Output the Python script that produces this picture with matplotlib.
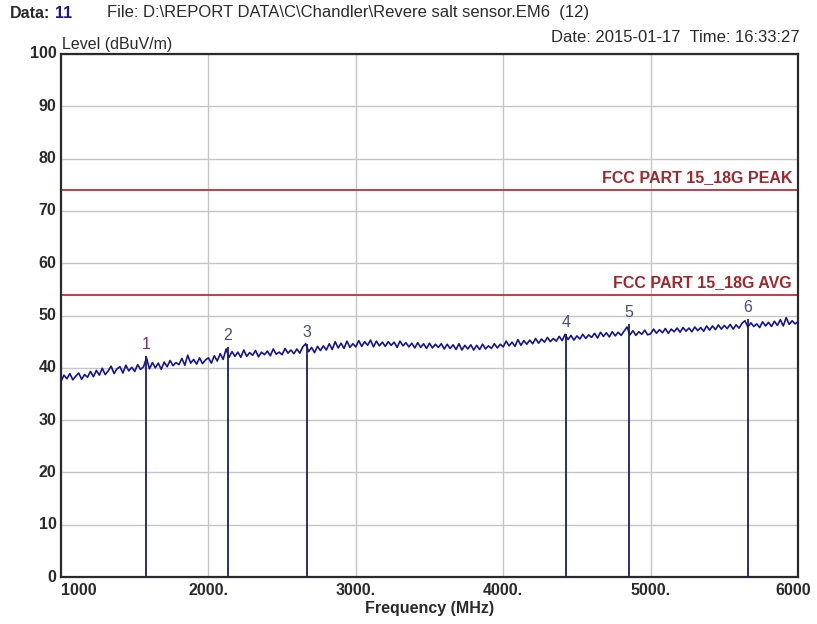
import matplotlib
matplotlib.use("Agg")
import matplotlib.pyplot as plt
import numpy as np

# ---------------- data ----------------
freq_start = 1000
freq_stop = 6000
trace_level = [
    37.4, 38.6, 37.9, 38.9, 37.7, 38.4, 39.0, 37.8, 38.7, 38.2,
    39.3, 38.3, 39.5, 38.6, 39.9, 38.7, 39.4, 40.3, 38.9, 39.8,
    40.2, 39.0, 40.5, 39.4, 40.1, 39.3, 40.6, 39.7, 40.2, 41.9,
    39.8, 41.0, 40.0, 40.9, 39.7, 41.1, 40.2, 41.4, 40.4, 41.0,
    40.6, 41.8, 40.5, 42.4, 40.9, 41.6, 40.7, 41.9, 40.8, 41.5,
    41.9, 40.9, 42.3, 41.3, 42.7, 41.6, 43.6, 42.0, 43.1, 42.2,
    43.0, 42.0, 43.4, 42.2, 42.9, 42.4, 43.3, 42.1, 43.0, 42.5,
    43.2, 42.3, 43.6, 42.6, 43.0, 42.5, 43.7, 42.8, 43.4, 42.7,
    43.6, 42.8, 44.0, 44.6, 43.1, 43.9, 42.9, 44.1, 43.3, 44.2,
    43.4, 44.6, 43.5, 45.0, 43.8, 44.7, 43.7, 45.1, 43.9, 44.6,
    44.0, 45.2, 44.1, 45.0, 44.3, 45.3, 44.0, 45.1, 44.2, 44.9,
    44.1, 45.0, 44.3, 44.9, 43.9, 45.1, 44.2, 44.8, 44.0, 44.7,
    43.8, 44.8, 43.9, 44.6, 43.7, 44.7, 43.8, 44.5, 43.9, 44.6,
    43.6, 44.5, 43.7, 44.4, 43.5, 44.6, 43.4, 44.3, 43.6, 44.4,
    43.4, 44.3, 43.5, 44.5, 43.6, 44.2, 43.7, 44.6, 43.8, 44.5,
    44.0, 45.1, 44.2, 44.9, 44.1, 45.4, 44.3, 45.2, 44.5, 45.3,
    44.6, 45.6, 44.7, 45.5, 44.9, 45.8, 45.0, 45.6, 45.1, 46.0,
    45.2, 46.4, 45.4, 46.2, 45.3, 46.1, 45.5, 46.4, 45.6, 46.3,
    45.8, 46.6, 45.7, 46.8, 46.0, 46.7, 45.9, 46.9, 46.1, 46.8,
    46.2, 47.0, 47.8, 46.3, 47.1, 46.2, 46.9, 46.4, 47.2, 46.3,
    46.5, 47.4, 46.6, 47.3, 46.7, 47.5, 46.6, 47.4, 46.9, 47.6,
    46.8, 47.7, 47.0, 47.6, 46.9, 47.8, 47.1, 47.7, 47.0, 48.0,
    47.2, 48.0, 47.3, 48.2, 47.4, 48.1, 47.5, 48.3, 47.4, 48.2,
    47.6, 48.5, 49.0, 47.8, 48.6, 47.9, 48.4, 47.7, 48.8, 48.0,
    48.7, 47.9, 48.9, 48.1, 49.2, 48.0, 49.6, 48.3, 49.0, 48.4,
    48.8,
]
marker_ids = ["1", "2", "3", "4", "5", "6"]
marker_freq = [1577, 2133, 2667, 4426, 4853, 5661]
marker_level = [42.2, 43.9, 44.5, 46.4, 48.3, 49.3]
limit_names = ["FCC PART 15_18G PEAK", "FCC PART 15_18G AVG"]
limit_levels = [74, 54]
x_ticks = [1000, 2000, 3000, 4000, 5000, 6000]
x_tick_labels = ["1000", "2000.", "3000.", "4000.", "5000.", "6000"]
y_ticks = [0, 10, 20, 30, 40, 50, 60, 70, 80, 90, 100]

# ---------------- style ----------------
plt.rcParams["font.family"] = ["Liberation Sans", "DejaVu Sans"]

fig = plt.figure(figsize=(8.17, 6.24), dpi=100)
ax = fig.add_axes([61/817, 1-577/624, 737/817, 523/624])

freqs = np.linspace(freq_start, freq_stop, len(trace_level))
ax.plot(freqs, trace_level, color="#14149a", lw=1.2, zorder=3)

for lvl, name in zip(limit_levels, limit_names):
    ax.axhline(lvl, color="#b83236", lw=1.3, zorder=2)
    ax.text(5960, lvl + 0.9, name, color="#a3262c", fontsize=11.5,
            fontweight="bold", ha="right", va="bottom", zorder=4)

for mid, mf, ml in zip(marker_ids, marker_freq, marker_level):
    ax.vlines(mf, 0, ml, color="#1c1c6a", lw=1.3, zorder=4)
    col = "#7a2a8c" if mid == "1" else "#4a4a8e"
    ax.text(mf, ml + 0.8, mid, color=col, fontsize=11.5, ha="center",
            va="bottom", zorder=5)

ax.set_xlim(freq_start, freq_stop)
ax.set_ylim(0, 100)
ax.set_xticks(x_ticks[1:-1])
ax.set_xticklabels([])
ax.set_yticks(y_ticks)
ax.set_yticklabels([])
ax.tick_params(length=0)
ax.grid(True, color="#c6c6c6", lw=1.0, zorder=1)
ax.set_axisbelow(True)
for s in ax.spines.values():
    s.set_color("#2a2a2a")
    s.set_linewidth(1.6)

# tick labels
for v in y_ticks:
    ax.text(-0.006, v / 100, str(v), transform=ax.transAxes, ha="right",
            va="center", fontsize=11.5, fontweight="bold", color="#2a2a2a")
for v, lab in zip(x_ticks, x_tick_labels):
    ha = "left" if v == freq_start else "center"
    xx = v if v != freq_stop else v - 30
    ax.text(xx, -1.2, lab, ha=ha, va="top", fontsize=11.5, fontweight="bold",
            color="#2a2a2a")

ax.text(0.5, -0.046, "Frequency (MHz)", transform=ax.transAxes, ha="center",
        va="top", fontsize=11.5, fontweight="bold", color="#2a2a2a")
ax.text(0.002, 1.004, "Level (dBuV/m)", transform=ax.transAxes, ha="left",
        va="bottom", fontsize=11.5, color="#2a2a2a")

fig.text(10/817, 1-13/624, "Data:", ha="left", va="center", fontsize=11.5,
         fontweight="bold", color="#2a2a2a")
fig.text(55/817, 1-13/624, "11", ha="left", va="center", fontsize=11.5,
         fontweight="bold", color="#1a1a80")
fig.text(107/817, 1-13/624, "File: D:\\REPORT DATA\\C\\Chandler\\Revere salt sensor.EM6  (12)",
         ha="left", va="center", fontsize=12, color="#2a2a2a")
fig.text(800/817, 1-38/624, "Date: 2015-01-17  Time: 16:33:27", ha="right",
         va="center", fontsize=12, color="#2a2a2a")

fig.savefig("out.png", dpi=100, facecolor="white")
